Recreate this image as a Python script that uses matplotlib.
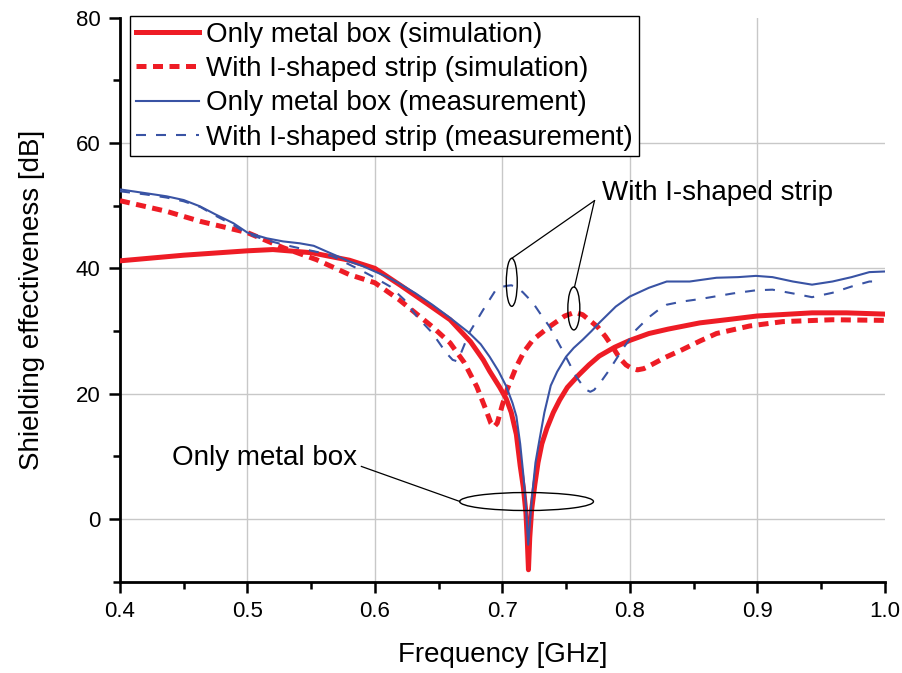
import numpy as np
import matplotlib
matplotlib.use('Agg')
import matplotlib.pyplot as plt
from matplotlib.patches import Ellipse

plt.rcParams['font.family'] = ['Liberation Sans', 'DejaVu Sans']

# シミュレーション（金属箱のみ）
f_sim_box = [0.40, 0.45, 0.50, 0.52, 0.55, 0.58, 0.60, 0.62, 0.64, 0.659, 0.675,
             0.685, 0.690, 0.698, 0.703, 0.707, 0.711, 0.714, 0.7165, 0.7185,
             0.7195, 0.7205, 0.7215, 0.723, 0.7255, 0.728, 0.731, 0.735, 0.740,
             0.745, 0.751, 0.760, 0.768, 0.776, 0.788, 0.800, 0.815, 0.830,
             0.855, 0.880, 0.900, 0.943, 0.970, 1.000]
se_sim_box = [41.2, 42.1, 42.8, 43.0, 42.5, 41.3, 40.0, 37.3, 34.5, 31.8, 28.3,
              25.4, 23.6, 21.0, 19.2, 17.0, 13.5, 8.5, 5.0, 1.0,
              -3.0, -8.1, -3.0, 1.5, 5.5, 9.0, 12.0, 14.5, 17.0,
              19.0, 21.0, 23.0, 24.6, 26.0, 27.4, 28.5, 29.6, 30.3,
              31.3, 31.9, 32.4, 32.9, 32.9, 32.7]

# シミュレーション（I字ストリップ付き）
f_sim_strip = [0.40, 0.4365, 0.463, 0.50, 0.528, 0.554, 0.58, 0.60, 0.619, 0.645,
               0.659, 0.67, 0.68, 0.687, 0.691, 0.6935, 0.696, 0.700, 0.704,
               0.711, 0.717, 0.724, 0.737, 0.749, 0.757, 0.763, 0.768, 0.775,
               0.781, 0.787, 0.792, 0.797, 0.801, 0.806, 0.811, 0.815, 0.828,
               0.841, 0.855, 0.868, 0.894, 0.92, 0.959, 1.0]
se_sim_strip = [50.8, 49.1, 47.5, 45.7, 43.3, 41.4, 39.0, 37.7, 35.0, 30.7,
                28.1, 25.0, 21.1, 17.5, 15.3, 14.7, 15.3, 18.2, 20.8,
                24.3, 26.7, 28.6, 30.7, 32.4, 33.0, 32.6, 31.8, 30.6,
                29.1, 27.3, 25.7, 24.6, 24.1, 23.8, 24.0, 24.4, 25.8,
                27.0, 28.4, 29.6, 30.8, 31.5, 31.8, 31.7]

# 測定（金属箱のみ）
f_meas_box = [0.40, 0.42, 0.4365, 0.45, 0.4627, 0.475, 0.489, 0.50, 0.515, 0.528,
              0.541, 0.552, 0.562, 0.57, 0.58, 0.59, 0.60, 0.61, 0.619, 0.632,
              0.645, 0.659, 0.674, 0.683, 0.69, 0.697, 0.703, 0.708, 0.711, 0.714,
              0.7165, 0.7185, 0.7195, 0.7203, 0.7215, 0.7235, 0.726, 0.729,
              0.733, 0.738, 0.743, 0.75, 0.756, 0.763, 0.770, 0.776, 0.789,
              0.80, 0.815, 0.829, 0.847, 0.868, 0.885, 0.899, 0.912, 0.928,
              0.943, 0.959, 0.974, 0.988, 1.0]
se_meas_box = [52.6, 52.0, 51.5, 50.9, 49.9, 48.6, 47.2, 45.7, 44.8, 44.3,
               44.0, 43.6, 42.7, 42.0, 41.1, 40.4, 39.5, 38.6, 37.6, 36.0,
               34.2, 32.1, 29.7, 27.9, 25.9, 23.6, 21.2, 18.5, 16.4, 12.0,
               7.0, 2.0, -1.5, -4.1, -1.0, 4.0, 9.0, 12.5,
               17.0, 21.3, 23.5, 25.9, 27.3, 28.6, 30.0, 31.3, 33.9,
               35.5, 36.9, 37.9, 37.9, 38.5, 38.6, 38.8, 38.6, 37.9,
               37.4, 37.9, 38.6, 39.4, 39.5]

# 測定（I字ストリップ付き）
f_meas_strip = [0.40, 0.42, 0.4365, 0.45, 0.463, 0.475, 0.489, 0.50, 0.515, 0.528,
                0.541, 0.555, 0.567, 0.588, 0.60, 0.612, 0.623, 0.633, 0.645, 0.656,
                0.661, 0.664, 0.667, 0.674, 0.685, 0.695, 0.699, 0.703, 0.707,
                0.711, 0.716, 0.724, 0.730, 0.737, 0.747, 0.758, 0.763, 0.766,
                0.769, 0.772, 0.777, 0.784, 0.794, 0.805, 0.815, 0.822, 0.829,
                0.841, 0.855, 0.881, 0.899, 0.912, 0.928, 0.943, 0.959, 0.974,
                0.988, 0.996]
se_meas_strip = [52.3, 51.8, 51.3, 50.7, 49.8, 48.4, 46.9, 45.5, 44.5, 43.8,
                 43.2, 42.6, 41.9, 39.8, 38.5, 37.1, 35.0, 32.3, 29.7, 26.5,
                 25.4, 25.2, 26.2, 29.7, 33.4, 36.6, 37.0, 37.2, 37.3,
                 37.0, 36.2, 34.5, 32.7, 30.7, 27.0, 22.7, 21.3, 20.6,
                 20.3, 20.6, 21.8, 23.8, 27.0, 30.2, 32.2, 33.3, 34.2,
                 34.7, 35.1, 36.0, 36.5, 36.6, 36.0, 35.4, 36.1, 37.1,
                 37.9, 37.9]

labels = ['Only metal box (simulation)', 'With I-shaped strip (simulation)',
          'Only metal box (measurement)', 'With I-shaped strip (measurement)']

red = '#ee1c25'
blue = '#3953a4'

fig = plt.figure(figsize=(9.03, 6.73), dpi=100)
ax = fig.add_axes([0.1329, 0.1357, 0.8468, 0.8380])

ax.plot(f_sim_box, se_sim_box, color=red, lw=3.6, label=labels[0], zorder=3,
        solid_joinstyle='round')
ax.plot(f_sim_strip, se_sim_strip, color=red, lw=3.6, dashes=(2.0, 1.3),
        label=labels[1], zorder=3, dash_joinstyle='round')
ax.plot(f_meas_box, se_meas_box, color=blue, lw=1.5, label=labels[2], zorder=4,
        solid_joinstyle='round')
ax.plot(f_meas_strip, se_meas_strip, color=blue, lw=1.5, dashes=(4.8, 4.8),
        label=labels[3], zorder=4, dash_joinstyle='round')

ax.set_xlim(0.4, 1.0)
ax.set_ylim(-10, 80)
ax.set_xticks(np.arange(0.4, 1.01, 0.1))
ax.set_xticks(np.arange(0.45, 1.0, 0.1), minor=True)
ax.set_yticks([0, 20, 40, 60, 80])
ax.set_yticks([-10, 10, 30, 50, 70], minor=True)
ax.set_xticklabels(['0.4', '0.5', '0.6', '0.7', '0.8', '0.9', '1.0'])

ax.grid(True, which='major', color='#c8c8c8', lw=1.0)
ax.set_axisbelow(True)
ax.xaxis.get_gridlines()[-1].set_visible(False)
ax.yaxis.get_gridlines()[-1].set_visible(False)

for s in ['top', 'right']:
    ax.spines[s].set_visible(False)
for s in ['left', 'bottom']:
    ax.spines[s].set_linewidth(2.0)

ax.tick_params(which='major', direction='out', length=8, width=1.8,
               labelsize=16, pad=6)
ax.tick_params(which='minor', direction='out', length=5, width=1.8)

ax.set_xlabel('Frequency [GHz]', fontsize=20, labelpad=14)
ax.set_ylabel('Shielding effectiveness [dB]', fontsize=20, labelpad=22)

leg = ax.legend(loc='upper left', bbox_to_anchor=(0.013, 1.003), fontsize=20,
                frameon=True, fancybox=False, edgecolor='black', framealpha=1,
                handlelength=2.3, handletextpad=0.25, labelspacing=0.3,
                borderpad=0.2, borderaxespad=0)
leg.get_frame().set_linewidth(1.0)

# 注釈（楕円と引き出し線）
ax.add_patch(Ellipse((0.7074, 37.77), 0.0086, 7.66, fill=False, ec='black',
                     lw=1.0, zorder=5))
ax.add_patch(Ellipse((0.7561, 33.6), 0.0094, 6.86, fill=False, ec='black',
                     lw=1.0, zorder=5))
ax.add_patch(Ellipse((0.719, 2.79), 0.105, 2.87, fill=False, ec='black',
                     lw=1.0, zorder=5))
ax.plot([0.7723, 0.7074], [50.8, 41.6], color='black', lw=0.9, zorder=5)
ax.plot([0.7723, 0.7566], [50.8, 37.0], color='black', lw=0.9, zorder=5)
ax.plot([0.5894, 0.6665], [8.39, 2.81], color='black', lw=0.9, zorder=5)

ax.text(0.7785, 52.0, 'With I-shaped strip', fontsize=20, va='center', ha='left')
ax.text(0.4405, 9.8, 'Only metal box', fontsize=20, va='center', ha='left')

plt.savefig('out.png', dpi=100)
